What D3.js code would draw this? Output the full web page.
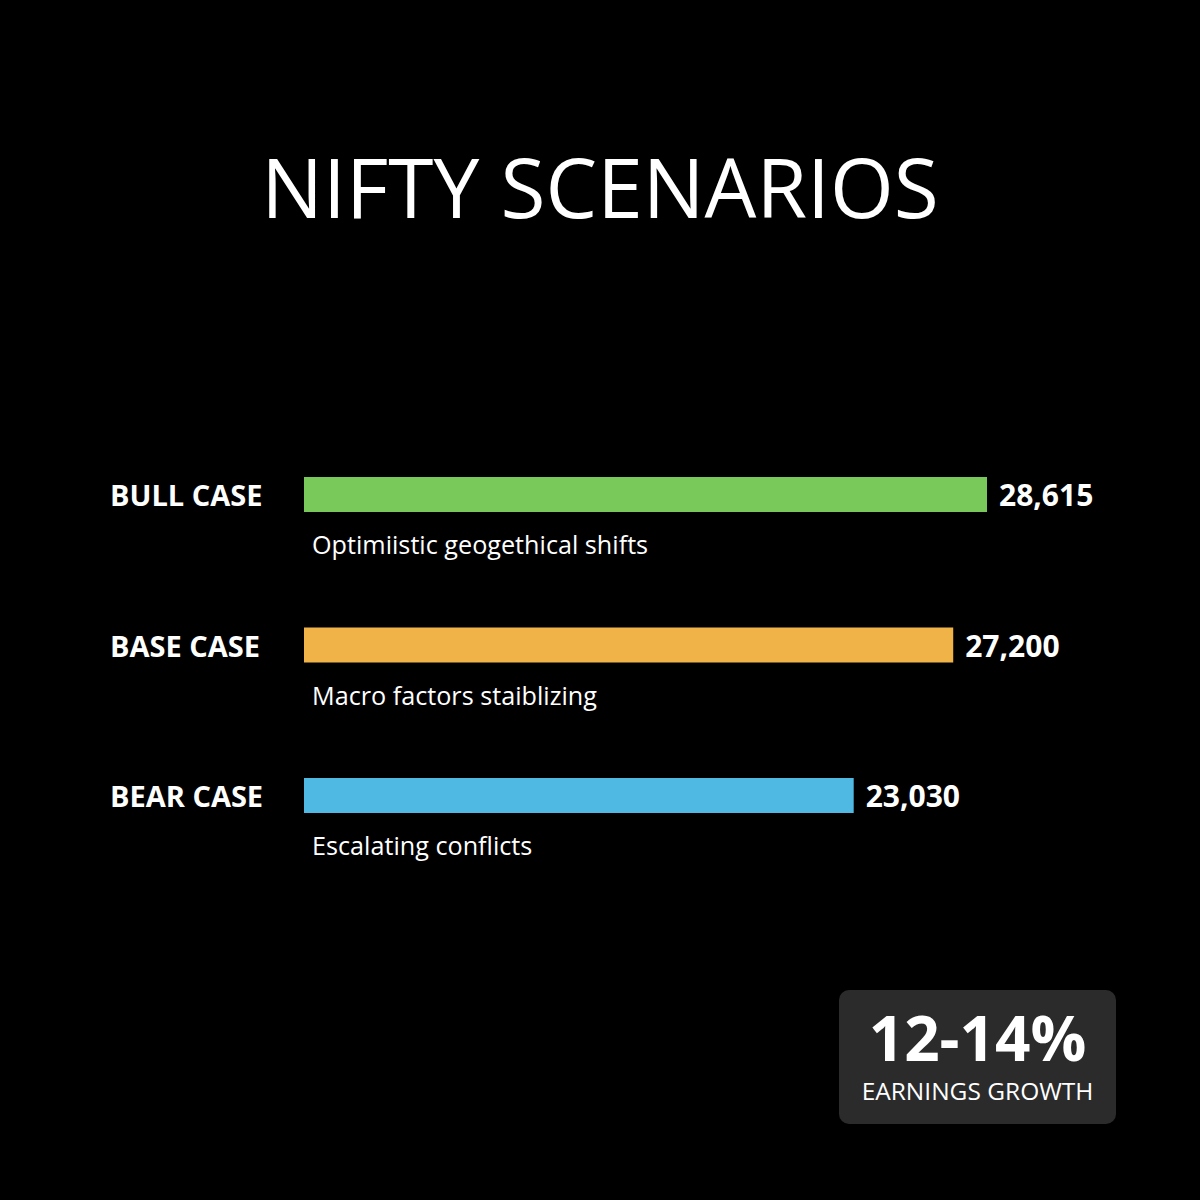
<!DOCTYPE html>
<html><head><meta charset="utf-8">
<script src="https://cdn.jsdelivr.net/npm/d3@7"></script>
<style>html,body{margin:0;padding:0;background:#000;}svg{display:block;}</style>
</head><body>
<svg id="chart" width="1200" height="1200"></svg>
<script>
const categories = ["BULL CASE", "BASE CASE", "BEAR CASE"];
const values = [28615, 27200, 23030];
const notes = ["Optimiistic geogethical shifts", "Macro factors staiblizing", "Escalating conflicts"];
const colors = ["#79c95a", "#f0b347", "#4fb8e3"];
const title = "NIFTY SCENARIOS";
const calloutValue = "12-14%";
const calloutLabel = "EARNINGS GROWTH";

const font = "'Open Sans', 'Noto Sans', sans-serif";
const svg = d3.select("#chart");
svg.append("rect").attr("width", 1200).attr("height", 1200).attr("fill", "#000");

svg.append("text").attr("x", 600).attr("y", 218).attr("text-anchor", "middle")
  .attr("font-family", font).attr("font-size", 82).attr("fill", "#fff").text(title);

const x = d3.scaleLinear().domain([0, d3.max(values)]).range([304, 987]);
const y = d3.scaleBand().domain(categories).range([477, 928.5]);
const barH = 35;
const fmt = d3.format(",");

const g = svg.selectAll("g.row").data(categories).enter().append("g").attr("class", "row");
g.append("rect").attr("x", x(0)).attr("y", d => y(d))
  .attr("width", (d, i) => x(values[i]) - x(0)).attr("height", barH)
  .attr("fill", (d, i) => colors[i]);
g.append("text").attr("x", 110).attr("y", d => y(d) + 29)
  .attr("font-family", font).attr("font-weight", 700).attr("font-size", 29)
  .attr("fill", "#fff").text(d => d);
g.append("text").attr("x", (d, i) => x(values[i]) + 12).attr("y", d => y(d) + 29)
  .attr("font-family", font).attr("font-weight", 700).attr("font-size", 30)
  .attr("fill", "#fff").text((d, i) => fmt(values[i]));
g.append("text").attr("x", 312).attr("y", d => y(d) + 77)
  .attr("font-family", font).attr("font-size", 25.2)
  .attr("fill", "#fff").text((d, i) => notes[i]);

svg.append("rect").attr("x", 839).attr("y", 990).attr("width", 277).attr("height", 134)
  .attr("rx", 10).attr("fill", "#2b2b2b");
svg.append("text").attr("x", 977.5).attr("y", 1061).attr("text-anchor", "middle")
  .attr("font-family", font).attr("font-weight", 700).attr("font-size", 62)
  .attr("fill", "#fff").text(calloutValue);
svg.append("text").attr("x", 977.5).attr("y", 1100).attr("text-anchor", "middle")
  .attr("font-family", font).attr("font-size", 24.5)
  .attr("fill", "#fff").text(calloutLabel);
</script>
</body></html>
